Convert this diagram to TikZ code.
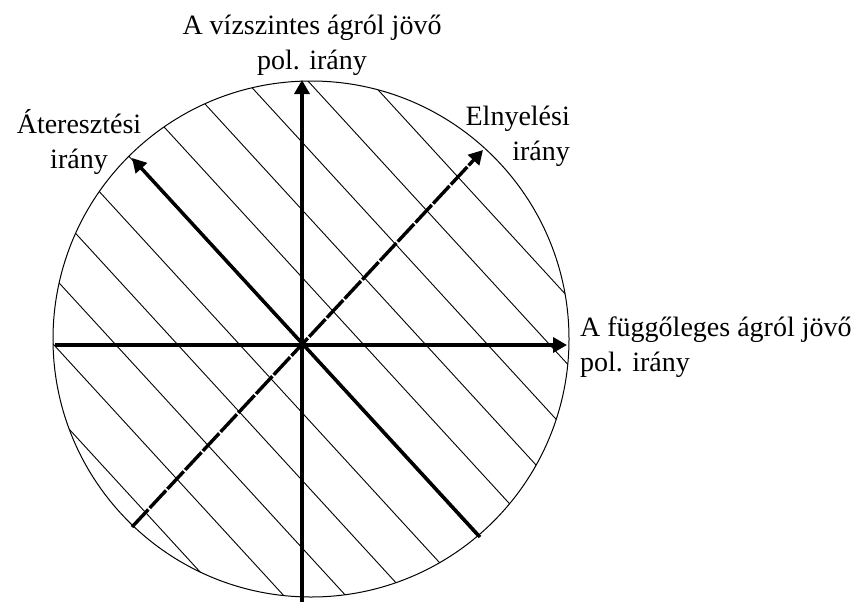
\documentclass[tikz,border=0pt]{standalone}
\usepackage{fontspec}
\setmainfont{Liberation Serif}
\usetikzlibrary{calc,arrows.meta}

\begin{document}
\begin{tikzpicture}[x=1pt, y=-1pt, font=\fontsize{28}{35}\selectfont,
  dir/.style={line width=3.4pt, -{Triangle[length=14pt, width=15pt]}},
  hatch/.style={line width=0.9pt},
  lbl/.style={inner sep=0pt}]
\useasboundingbox (0,0) rectangle (864,602);
\coordinate (C) at (311,339); \coordinate (O) at (302,345);
% hatching inside the polarizer disc
\begin{scope}
\clip (C) circle[radius=258pt];
\foreach \k in {-5,...,5} \draw[hatch] ($(O)+(\k*62,0)+(-320,-349)$) -- ++(640,698);
\end{scope}
\draw[line width=1pt] (C) circle[radius=258pt];
% directions
\coordinate (top) at (302,80); \coordinate (bot) at (302,602); \coordinate (left) at (55,345); \coordinate (right) at (567,345);
\coordinate (pass) at (132,158); \coordinate (passend) at (480,537); \coordinate (abs) at (483,150); \coordinate (absend) at (132,527);
\draw[dir] (bot) -- (top); \draw[dir] (left) -- (right);
\draw[dir] (passend) -- (pass);
\draw[dir, dash pattern=on 24pt off 2pt] (absend) -- (abs);
% labels (anchored at the baseline of their last line)
\node[lbl, anchor=base, align=center] (vlabel) at (312,70) {A vízszintes ágról jövő\\pol. irány};
\node[lbl, anchor=base, align=center] (plabel) at (79,168) {Áteresztési\\irány};
\node[lbl, anchor=base east, align=right] (alabel) at (570,160) {Elnyelési\\irány};
\node[lbl, anchor=base west, align=left] (hlabel) at (580,371) {A függőleges ágról jövő\\pol. irány};
\end{tikzpicture}
\end{document}
